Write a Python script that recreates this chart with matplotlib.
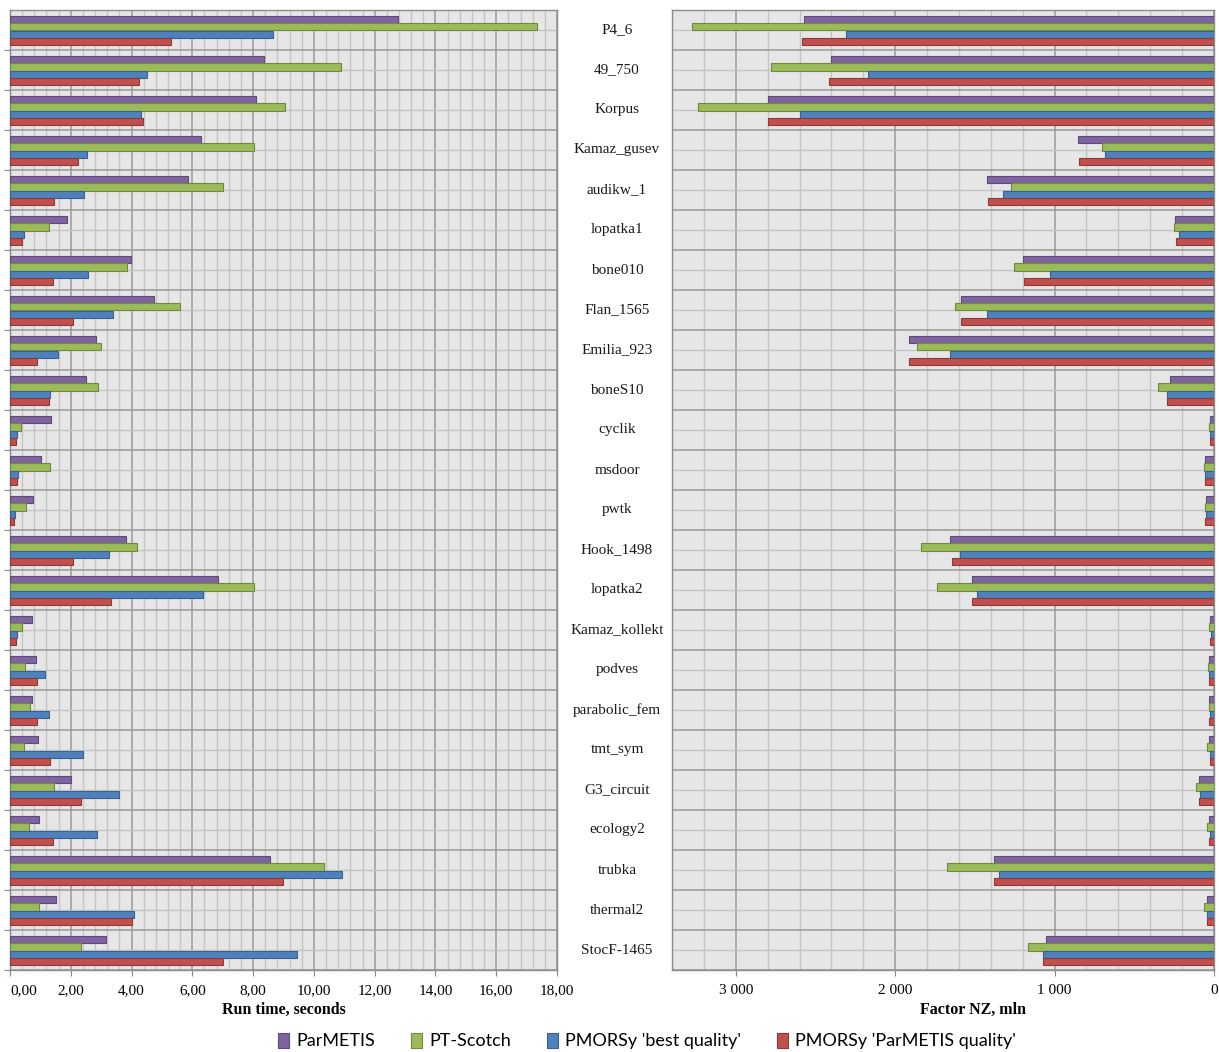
import numpy as np
import matplotlib
matplotlib.use("Agg")
import matplotlib.pyplot as plt
from matplotlib.patches import Patch
from matplotlib.ticker import MultipleLocator, FuncFormatter

# Test matrices (top to bottom)
matrices = ["P4_6", "49_750", "Korpus", "Kamaz_gusev", "audikw_1", "lopatka1",
            "bone010", "Flan_1565", "Emilia_923", "boneS10", "cyclik", "msdoor",
            "pwtk", "Hook_1498", "lopatka2", "Kamaz_kollekt", "podves",
            "parabolic_fem", "tmt_sym", "G3_circuit", "ecology2", "trubka",
            "thermal2", "StocF-1465"]

series_names = ["ParMETIS", "PT-Scotch", "PMORSy 'best quality'", "PMORSy 'ParMETIS quality'"]

# Run time, seconds
time_parmetis = [12.76, 8.36, 8.11, 6.30, 5.86, 1.89, 3.97, 4.75, 2.84, 2.49, 1.35, 1.03,
                 0.75, 3.81, 6.85, 0.72, 0.86, 0.72, 0.92, 2.00, 0.97, 8.55, 1.50, 3.16]
time_ptscotch = [17.34, 10.89, 9.06, 8.04, 7.00, 1.27, 3.84, 5.59, 2.98, 2.91, 0.35, 1.30,
                 0.52, 4.19, 8.04, 0.38, 0.48, 0.66, 0.45, 1.45, 0.62, 10.33, 0.94, 2.33]
time_best = [8.66, 4.50, 4.31, 2.52, 2.43, 0.45, 2.56, 3.40, 1.58, 1.31, 0.23, 0.27,
             0.16, 3.25, 6.34, 0.23, 1.15, 1.27, 2.39, 3.59, 2.85, 10.94, 4.09, 9.45]
time_pmq = [5.31, 4.24, 4.37, 2.25, 1.46, 0.41, 1.41, 2.07, 0.89, 1.27, 0.20, 0.23,
            0.13, 2.07, 3.33, 0.20, 0.89, 0.89, 1.32, 2.33, 1.42, 8.97, 4.03, 7.02]
time_ticks = [0, 2, 4, 6, 8, 10, 12, 14, 16, 18]

# Factor NZ, mln
nz_parmetis = [2572, 2404, 2798, 851, 1421, 244, 1198, 1587, 1911, 277, 22, 58,
               51, 1658, 1520, 22, 29, 29, 32, 94, 32, 1381, 47, 1054]
nz_ptscotch = [3274, 2778, 3234, 704, 1276, 248, 1256, 1627, 1864, 353, 29, 63,
               58, 1839, 1739, 29, 40, 29, 47, 114, 47, 1678, 62, 1166]
nz_best = [2311, 2170, 2597, 686, 1321, 217, 1026, 1421, 1654, 297, 22, 56,
           51, 1593, 1488, 20, 29, 22, 27, 87, 27, 1351, 47, 1074]
nz_pmq = [2585, 2413, 2798, 845, 1415, 237, 1189, 1587, 1911, 297, 22, 58,
          58, 1645, 1520, 22, 29, 29, 27, 94, 32, 1381, 47, 1074]

colors = ["#8064A2", "#9BBB59", "#4F81BD", "#C0504D"]
edges = ["#5E4A7A", "#71893F", "#3A6090", "#8E3A38"]

serif = "Liberation Serif"
bg = "#E6E6E6"

fig = plt.figure(figsize=(12.19, 10.52), dpi=100)
ax_t = fig.add_axes([10 / 1219, 82 / 1052, 547 / 1219, 960 / 1052])
ax_nz = fig.add_axes([672 / 1219, 82 / 1052, 542 / 1219, 960 / 1052])

y = np.arange(len(matrices))
bar_h = 0.185
offsets = [-0.265, -0.08, 0.105, 0.29]


def style_axis(ax, minor):
    ax.set_facecolor(bg)
    ax.set_axisbelow(True)
    ax.xaxis.set_minor_locator(MultipleLocator(minor))
    # row boundaries as major y ticks, row centres as minor
    ax.set_yticks(y + 0.5)
    ax.set_yticks(y, minor=True)
    ax.set_yticklabels([])
    ax.set_ylim(len(matrices) - 0.5, -0.5)
    ax.grid(which="major", color="#9A9A9A", linewidth=1.1)
    ax.grid(which="minor", color="#C4C4C4", linewidth=1.0)
    ax.tick_params(axis="y", which="both", length=0)
    ax.tick_params(axis="x", which="major", length=4, color="#888888",
                   labelsize=11, pad=6, labelfontfamily=serif)
    ax.tick_params(axis="x", which="minor", length=0)
    for s in ax.spines.values():
        s.set_color("#8C8C8C")
        s.set_linewidth(1.0)


# Left panel: run time
for vals, off, c, e in zip([time_parmetis, time_ptscotch, time_best, time_pmq], offsets, colors, edges):
    ax_t.barh(y + off, vals, height=bar_h, color=c, edgecolor=e, linewidth=0.8, zorder=3)
ax_t.set_xlim(0, 18)
ax_t.set_xticks(time_ticks)
ax_t.set_xticklabels([f"{v:.2f}".replace(".", ",") for v in time_ticks])
style_axis(ax_t, 0.4)
ax_t.tick_params(axis="y", which="major", length=4, color="#888888", left=True)
ax_t.set_xlabel("Run time, seconds", family=serif, fontsize=11.5, fontweight="bold", labelpad=2)
ax_t.xaxis.set_label_coords(0.5, -0.033)
# first label sits right of its tick so it stays inside the figure
ax_t.xaxis.get_major_ticks()[0].label1.set_horizontalalignment("left")

# Right panel: factor NZ (bars grow to the left)
for vals, off, c, e in zip([nz_parmetis, nz_ptscotch, nz_best, nz_pmq], offsets, colors, edges):
    ax_nz.barh(y + off, vals, height=bar_h, color=c, edgecolor=e, linewidth=0.8, zorder=3)
ax_nz.set_xlim(3400, 0)
ax_nz.xaxis.set_major_locator(MultipleLocator(1000))
ax_nz.xaxis.set_major_formatter(FuncFormatter(lambda v, p: f"{int(v):,}".replace(",", " ")))
style_axis(ax_nz, 200)
ax_nz.set_xlabel("Factor NZ, mln", family=serif, fontsize=11.5, fontweight="bold", labelpad=2)
ax_nz.xaxis.set_label_coords((973 - 672) / 542, -0.033)

# Matrix names between the two panels
for yi, name in zip(y, matrices):
    ax_t.text((617 - 10) / 547, yi, name, transform=ax_t.get_yaxis_transform(),
              ha="center", va="center", family=serif, fontsize=11, color="#1A1A1A")

# Legend
handles = [Patch(facecolor=c, edgecolor=e, linewidth=0.8) for c, e in zip(colors, edges)]
fig.legend(handles, series_names, loc="center", bbox_to_anchor=(0.531, 0.0105), ncol=4,
           frameon=False, prop={"family": "Lato", "size": 13},
           handlelength=0.6, handleheight=0.9, handletextpad=0.4, columnspacing=2.0)

fig.savefig("out.png", dpi=100)
